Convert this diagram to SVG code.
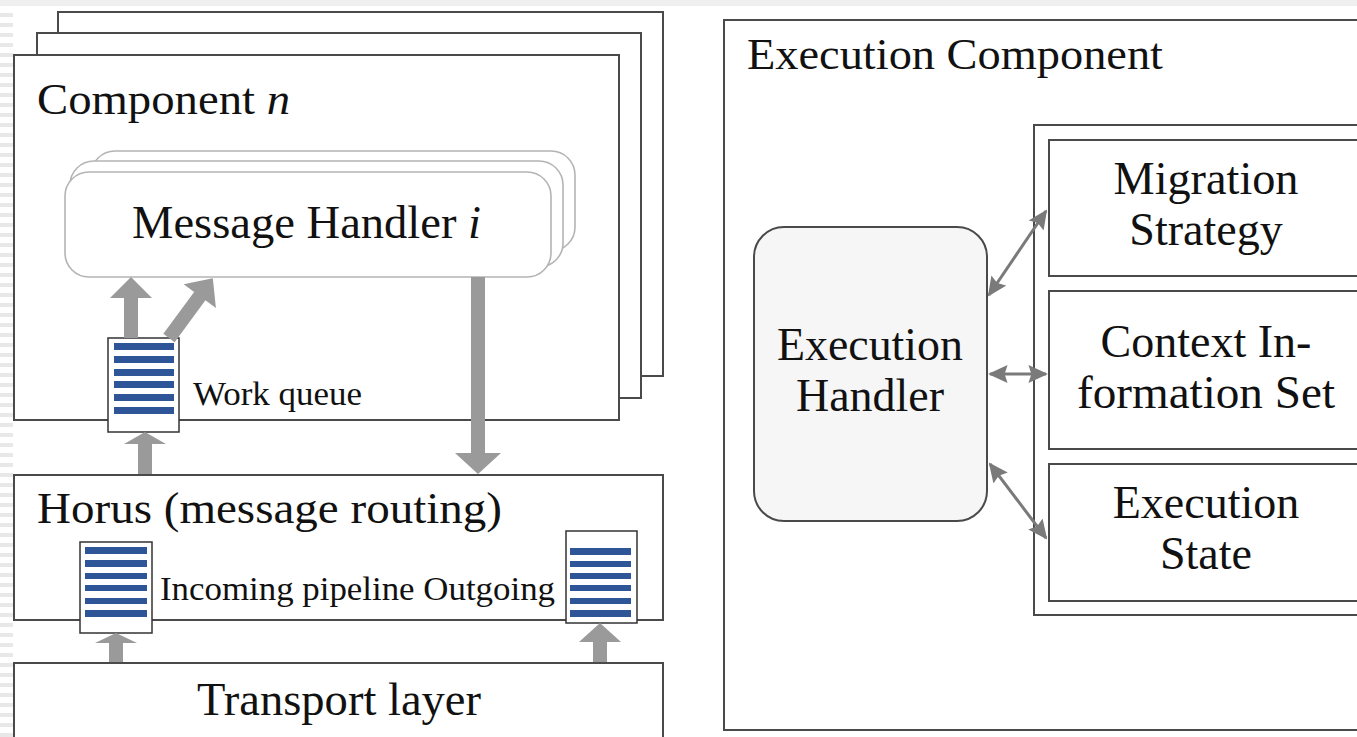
<svg xmlns="http://www.w3.org/2000/svg" width="1357" height="737" viewBox="0 0 1357 737">
  <defs>
    <style>
      .box { fill: #ffffff; stroke: #4a4a4a; stroke-width: 2; }
      .mh { fill: #ffffff; stroke: #b4b4b4; stroke-width: 1.6; }
      .queue { fill: #ffffff; stroke: #333333; stroke-width: 1.5; }
      .bar { fill: #2d5597; }
      .fat { fill: #9a9a9a; }
      .thin { stroke: #7a7a7a; stroke-width: 3; fill: none; marker-start: url(#head); marker-end: url(#head); }
      .t { font-family: "Liberation Serif", "Times New Roman", serif; fill: #111111; }
      .lg { font-size: 46px; }
      .md { font-size: 45px; }
      .sm { font-size: 34px; }
    </style>
    <marker id="head" viewBox="0 0 10 10" refX="9" refY="5" markerWidth="6.5" markerHeight="6" orient="auto-start-reverse" markerUnits="strokeWidth" preserveAspectRatio="none">
      <path d="M0,0 L10,5 L0,10 L1.5,5 Z" fill="#7a7a7a"/>
    </marker>
    <pattern id="stripes" x="0" y="3" width="14" height="10" patternUnits="userSpaceOnUse">
      <rect x="0" y="0" width="13" height="4" fill="#e8e8e8"/>
    </pattern>
  </defs>

  <!-- page background -->
  <rect x="0" y="0" width="1357" height="737" fill="#ffffff"/>
  <rect x="0" y="0" width="1357" height="6" fill="#efefef"/>
  <rect x="0" y="10" width="13" height="727" fill="url(#stripes)"/>

  <!-- stacked component frames -->
  <g id="component-stack">
    <rect class="box" x="58" y="12" width="605" height="364"/>
    <rect class="box" x="37" y="33" width="604" height="365"/>
    <rect class="box" x="14" y="55" width="605" height="365"/>
    <text class="t md" x="37" y="114" textLength="253" lengthAdjust="spacingAndGlyphs">Component <tspan font-style="italic">n</tspan></text>
  </g>

  <!-- stacked message handlers -->
  <g id="message-handler">
    <rect class="mh" x="91" y="151" width="484" height="100" rx="24"/>
    <rect class="mh" x="70" y="161" width="493" height="106" rx="24"/>
    <rect class="mh" x="65" y="172" width="486" height="105" rx="24"/>
    <text class="t lg" x="132" y="238" textLength="349" lengthAdjust="spacingAndGlyphs">Message Handler <tspan font-style="italic">i</tspan></text>
  </g>

  <!-- work queue -->
  <g id="work-queue">
    <rect class="queue" x="108" y="338" width="71" height="94"/>
    <rect class="bar" x="114" y="343" width="60" height="7"/>
    <rect class="bar" x="114" y="356" width="60" height="7"/>
    <rect class="bar" x="114" y="369" width="60" height="7"/>
    <rect class="bar" x="114" y="381" width="60" height="7"/>
    <rect class="bar" x="114" y="394" width="60" height="7"/>
    <rect class="bar" x="114" y="407" width="60" height="7"/>
    <text class="t sm" x="193" y="405" textLength="169" lengthAdjust="spacingAndGlyphs">Work queue</text>
  </g>

  <!-- Horus routing layer -->
  <g id="horus">
    <rect class="box" x="14" y="475" width="649" height="145"/>
    <text class="t md" x="37" y="523" textLength="465" lengthAdjust="spacingAndGlyphs">Horus (message routing)</text>
    <text class="t sm" x="160" y="600" textLength="395" lengthAdjust="spacingAndGlyphs">Incoming pipeline Outgoing</text>
  </g>

  <g id="incoming-queue">
    <rect class="queue" x="80" y="542" width="72" height="91"/>
    <rect class="bar" x="85" y="547" width="62" height="7"/>
    <rect class="bar" x="85" y="560" width="62" height="7"/>
    <rect class="bar" x="85" y="573" width="62" height="6"/>
    <rect class="bar" x="85" y="585" width="62" height="6"/>
    <rect class="bar" x="85" y="598" width="62" height="6"/>
    <rect class="bar" x="85" y="610" width="62" height="7"/>
  </g>

  <g id="outgoing-queue">
    <rect class="queue" x="566" y="531" width="71" height="92"/>
    <rect class="bar" x="570" y="548" width="61" height="7"/>
    <rect class="bar" x="570" y="561" width="61" height="6"/>
    <rect class="bar" x="570" y="573" width="61" height="6"/>
    <rect class="bar" x="570" y="585" width="61" height="6"/>
    <rect class="bar" x="570" y="598" width="61" height="6"/>
    <rect class="bar" x="570" y="610" width="61" height="7"/>
  </g>

  <!-- transport layer -->
  <g id="transport">
    <rect class="box" x="14" y="663" width="649" height="90"/>
    <text class="t lg" x="339" y="715" text-anchor="middle" textLength="284" lengthAdjust="spacingAndGlyphs">Transport layer</text>
  </g>

  <!-- execution component -->
  <g id="execution-component">
    <rect class="box" x="724" y="20" width="660" height="710"/>
    <text class="t md" x="747" y="69" textLength="416" lengthAdjust="spacingAndGlyphs">Execution Component</text>
    <rect class="box" x="1034" y="125" width="340" height="490"/>
  </g>

  <g id="migration-strategy">
    <rect class="box" x="1049" y="140" width="320" height="136"/>
    <text class="t lg" x="1206" y="194" text-anchor="middle" textLength="185" lengthAdjust="spacingAndGlyphs">Migration</text>
    <text class="t lg" x="1206" y="245" text-anchor="middle">Strategy</text>
  </g>

  <g id="context-information-set">
    <rect class="box" x="1049" y="291" width="320" height="158"/>
    <text class="t lg" x="1206" y="357" text-anchor="middle">Context In-</text>
    <text class="t lg" x="1206" y="408" text-anchor="middle" textLength="258" lengthAdjust="spacingAndGlyphs">formation Set</text>
  </g>

  <g id="execution-state">
    <rect class="box" x="1049" y="464" width="320" height="137"/>
    <text class="t lg" x="1206" y="518" text-anchor="middle">Execution</text>
    <text class="t lg" x="1206" y="569" text-anchor="middle">State</text>
  </g>

  <g id="execution-handler">
    <rect x="754" y="227" width="233" height="294" rx="30" fill="#f6f6f6" stroke="#4a4a4a" stroke-width="2"/>
    <text class="t lg" x="870" y="360" text-anchor="middle" textLength="186" lengthAdjust="spacingAndGlyphs">Execution</text>
    <text class="t lg" x="870" y="411" text-anchor="middle">Handler</text>
  </g>

  <!-- connectors -->
  <g id="connectors">
    <!-- work queue to handler -->
    <polygon class="fat" points="124,338 138,338 138,298 152,298 131,277 110,298 124,298"/>
    <polygon class="fat" transform="translate(169,338) rotate(36.3)" points="-7,0 7,0 7,-52 20,-52 0,-74 -20,-52 -7,-52"/>
    <!-- routing to work queue -->
    <polygon class="fat" points="138,474 152,474 152,444 166,444 145,432 124,444 138,444"/>
    <!-- handler back to routing -->
    <polygon class="fat" points="471,277 485,277 485,453 501,453 478,474 455,453 471,453"/>
    <!-- transport into pipelines -->
    <polygon class="fat" points="109,662 123,662 123,643 137,643 116,633 95,643 109,643"/>
    <polygon class="fat" points="593,662 607,662 607,642 621,642 600,623 579,642 593,642"/>

    <!-- execution handler links -->
    <line class="thin" x1="989" y1="295" x2="1046" y2="211"/>
    <line class="thin" x1="990" y1="374" x2="1046" y2="374"/>
    <line class="thin" x1="990" y1="464" x2="1046" y2="538"/>
  </g>
</svg>
